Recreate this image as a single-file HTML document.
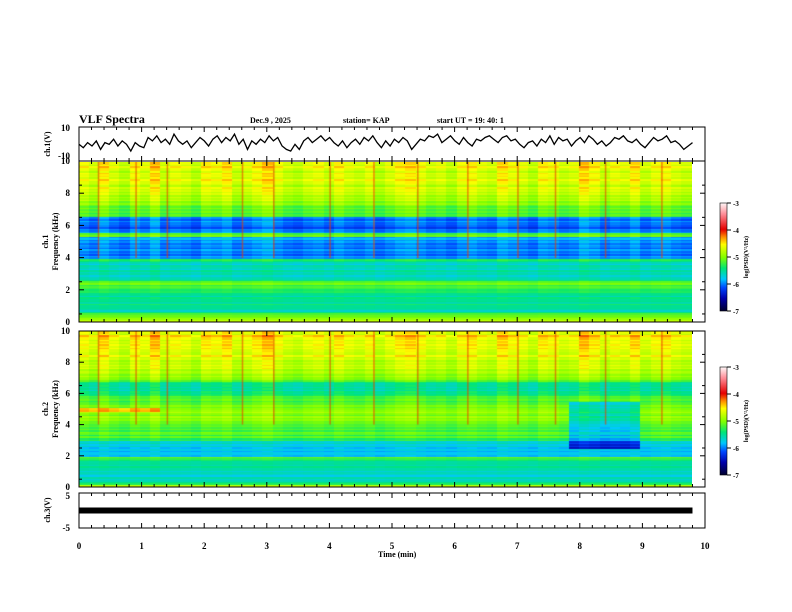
<!DOCTYPE html>
<html><head><meta charset="utf-8">
<style>
body{margin:0;background:#fff;width:792px;height:612px;overflow:hidden;font-family:"Liberation Serif",serif;}
#wrap{position:relative;width:792px;height:612px;}
canvas{position:absolute;}
svg{position:absolute;left:0;top:0;}
text{font-family:"Liberation Serif",serif;font-weight:bold;}
</style></head><body>
<div id="wrap">
<canvas id="spec1" width="613" height="160" style="left:79px;top:162px"></canvas>
<canvas id="spec2" width="613" height="156" style="left:79px;top:331px"></canvas>
<canvas id="cb1" width="7" height="108" style="left:720px;top:203px"></canvas>
<canvas id="cb2" width="7" height="108" style="left:720px;top:367px"></canvas>
<svg id="svg" width="792" height="612">
<text x="79" y="123" font-size="12">VLF Spectra</text>
<text x="250" y="123" font-size="8">Dec.9 , 2025</text>
<text x="343" y="123" font-size="8">station= KAP</text>
<text x="437" y="123" font-size="8">start UT = 19: 40: 1</text>
<text x="378" y="557" font-size="8">Time (min)</text>
</svg>
</div>
<script>
const timeTicks=[0,1,2,3,4,5,6,7,8,9,10];
const wave=[1,-1,2,0,3,-2,2,1,4,0,3,1,-3,2,0,-1,5,3,6,2,4,1,7,3,1,3,-1,2,5,3,0,4,6,2,5,3,7,1,4,-2,3,1,4,2,6,3,5,0,-2,-3,1,-2,3,5,2,4,6,3,5,2,0,3,-1,2,4,1,5,3,6,2,-1,3,0,4,2,5,3,-2,1,4,3,6,5,7,2,4,6,3,1,5,2,0,4,3,5,6,4,2,5,6,3,4,1,-1,2,3,0,4,2,6,1,5,3,4,0,3,5,2,6,4,1,3,0,2,5,4,6,3,2,4,1,-1,2,5,3,4,6,2,3,1,-2,0,2];
const ch3val=0;
const prof1=[-4.6,-4.8,-5.0,-5.4,-5.4,-5.3,-5.4,-5.3,-5.4,-5.3,-5.1,-5.1,-5.0,-5.4,-5.5,-5.5,-5.5,-5.5,-5.6,-5.3,-5.8,-5.9,-5.9,-5.9,-5.9,-5.9,-5.8,-5.0,-5.9,-6.0,-6.0,-5.9,-6.0,-5.1,-5.1,-5.1,-5.0,-4.9,-4.8,-4.8,-4.7,-4.7,-4.7,-4.7,-4.6,-4.7,-4.6,-4.7,-4.6,-4.6];
const prof2=[-4.6,-5.2,-5.5,-5.5,-5.5,-5.5,-5.4,-5.4,-5.3,-5.1,-5.6,-5.7,-5.7,-5.6,-5.5,-5.2,-5.1,-5.0,-5.1,-5.1,-5.0,-4.9,-4.9,-4.9,-4.8,-5.0,-5.0,-5.1,-5.1,-5.2,-5.4,-5.5,-5.5,-5.4,-5.0,-4.9,-4.8,-4.8,-4.7,-4.7,-4.7,-4.7,-4.6,-4.7,-4.6,-4.6,-4.6,-4.6,-4.5,-4.6];
const tmod=[0.3,0.1,0.5,0.2,0.0,0.4,0.2,0.6,0.1,0.3,0.2,0.0,0.4,0.3,0.5,0.1,0.2,0.4,0.6,0.3,0.1,0.0,0.2,0.3,0.1,0.4,0.2,0.1,0.3,0.0,0.2,0.4,0.5,0.3,0.1,0.2,0.0,0.3,0.4,0.2,0.1,0.5,0.3,0.2,0.0,0.4,0.3,0.1,0.2,0.6,0.4,0.1,0.3,0.2,0.5,0.1,0.3,0.4,0.2,0.1];
const rowMod=[0.15,-0.1,0.05,-0.15,0.1,-0.05,0.2,-0.2,0.0,0.1,-0.1,0.15,-0.05];
const spikes=[0.3,0.9,1.4,2.6,3.1,4.0,4.7,5.4,6.2,7.0,7.6,8.4,9.3];
const patch2={t0:7.8,t1:9.0,f0:2.5,f1:5.5,dv:-0.6};
const ch2Line={t1:1.3,f:5.0,dv:0.6};

function cmap(v){let t=(v+7)/4;t=Math.max(0,Math.min(1,t));
const st=[[0,0,0,40],[0.12,0,0,170],[0.22,0,70,255],[0.3,0,200,255],[0.4,0,230,120],[0.5,130,255,0],[0.62,255,255,0],[0.69,255,140,0],[0.76,230,0,0],[0.9,255,140,150],[1,255,245,245]];
for(let i=1;i<st.length;i++){if(t<=st[i][0]){const a=st[i-1],b=st[i],u=(t-a[0])/(b[0]-a[0]);return `rgb(${a[1]+(b[1]-a[1])*u|0},${a[2]+(b[2]-a[2])*u|0},${a[3]+(b[3]-a[3])*u|0})`;}}
return 'rgb(255,245,245)';}
const X0=79,X1=705;const xs=t=>X0+(X1-X0)*t/10;
function drawSpec(id,prof,isCh2){const c=document.getElementById(id),g=c.getContext('2d');const W=c.width,H=c.height;
const nt=tmod.length,nf=prof.length*2;const tw=W/nt,fh=H/nf;
for(let i=0;i<nt;i++)for(let j=0;j<nf;j++){const p=prof[j>>1];const fr=(j+0.5)/nf*10,tm=(i+0.5)/nt*9.8;
let v=p+tmod[i]*(fr/10)*0.7-0.15+rowMod[j%rowMod.length]*0.6;
if(isCh2){if(tm>=patch2.t0&&tm<=patch2.t1&&fr>=patch2.f0&&fr<=patch2.f1)v+=patch2.dv;
if(tm<=ch2Line.t1&&Math.abs(fr-ch2Line.f)<0.15)v+=ch2Line.dv;}
g.fillStyle=cmap(v);g.fillRect(Math.floor(i*tw),Math.floor(H-(j+1)*fh),Math.ceil(tw)+1,Math.ceil(fh)+1);}
spikes.forEach(s=>{const x=(xs(s)-X0);g.fillStyle='rgba(230,60,0,0.6)';g.fillRect(x,0,1.5,H*0.6);});
}
drawSpec('spec1',prof1,false);drawSpec('spec2',prof2,true);
['cb1','cb2'].forEach(id=>{const c=document.getElementById(id),g=c.getContext('2d');for(let y=0;y<c.height;y++){g.fillStyle=cmap(-3-4*y/c.height);g.fillRect(0,y,7,1);}});

const svg=document.getElementById('svg');const NS='http://www.w3.org/2000/svg';
function el(tag,at,name){const e=document.createElementNS(NS,tag);for(const k in at)e.setAttribute(k,at[k]);


svg.appendChild(e);return e;}
function txt(x,y,s,size,name,anchor){const e=el('text',{x:x,y:y,'font-size':size,'text-anchor':anchor||'end'},name);e.textContent=s;return e;}
const panels=[[127,161],[161,322],[331,487],[493,528]];
panels.forEach((p,k)=>{el('rect',{x:X0,y:p[0],width:X1-X0,height:p[1]-p[0],fill:'none',stroke:'#000','stroke-width':1},'panel-frame-'+k);
timeTicks.forEach(t=>{for(let m=0;m<5;m++){const tt=t+m*0.2;if(tt>10)continue;const x=xs(tt),L=m==0?5:3;
el('line',{x1:x,x2:x,y1:p[0],y2:p[0]+L,stroke:'#000'},'tick');el('line',{x1:x,x2:x,y1:p[1],y2:p[1]-L,stroke:'#000'},'tick');}});});
const wy=v=>146-v*17/10;
let pts=wave.map((v,i)=>`${xs(i/(wave.length-1)*9.8).toFixed(1)},${wy(v).toFixed(1)}`).join(' ');
el('polyline',{points:pts,fill:'none',stroke:'#000','stroke-width':1.3},'ch1-waveform');
txt(70,131,'10',9,'ch1-ytick');txt(70,159,'-10',9,'ch1-ytick');
const l1=txt(50,144,'ch.1(V)',8,'ch1-y-title','middle');l1.setAttribute('transform','rotate(-90 50 144)');
const y3=v=>510.5-v*15.5/5;
el('rect',{x:X0,y:y3(ch3val)-3,width:xs(9.8)-X0,height:6,fill:'#000'},'ch3-signal');
txt(70,499,'5',9,'ch3-ytick');txt(70,531,'-5',9,'ch3-ytick');
const l3=txt(50,510,'ch.3(V)',8,'ch3-y-title','middle');l3.setAttribute('transform','rotate(-90 50 510)');
[[161,322,'ch.1','ch1'],[331,487,'ch.2','ch2']].forEach(([t,b,lab,n])=>{[0,2,4,6,8,10].forEach(f=>{const y=b-(b-t)*f/10;
txt(70,y+3,String(f),9,n+'-freq-tick');
for(const xx of [X0,X1]){const d=xx==X0?1:-1;el('line',{x1:xx,x2:xx+d*5,y1:y,y2:y,stroke:'#000'},'tick');
if(f<10){const y2=y-(b-t)/20;el('line',{x1:xx,x2:xx+d*3,y1:y2,y2:y2,stroke:'#000'},'tick');}}});
const cy=(t+b)/2;const a=txt(48,cy,lab,8,n+'-label','middle');a.setAttribute('transform',`rotate(-90 48 ${cy})`);
const c=txt(58,cy,'Frequency (kHz)',8,n+'-y-title','middle');c.setAttribute('transform',`rotate(-90 58 ${cy})`);});
[[203,'cb1'],[367,'cb2']].forEach(([top,n])=>{el('rect',{x:720,y:top,width:7,height:108,fill:'none',stroke:'#000','stroke-width':0.6},n+'-frame');
[-3,-4,-5,-6,-7].forEach((v,i)=>{const y=top+i*27;el('line',{x1:727,x2:731,y1:y,y2:y,stroke:'#000'},'tick');txt(733,y+3,String(v),7,n+'-tick','start');});
const r=txt(748,top+54,'log(PSD)(V²/Hz)',6,n+'-title','middle');r.setAttribute('transform',`rotate(-90 748 ${top+54})`);});
timeTicks.forEach(t=>txt(xs(t),549,String(t),9,'x-tick-label','middle'));
</script>
</body></html>
